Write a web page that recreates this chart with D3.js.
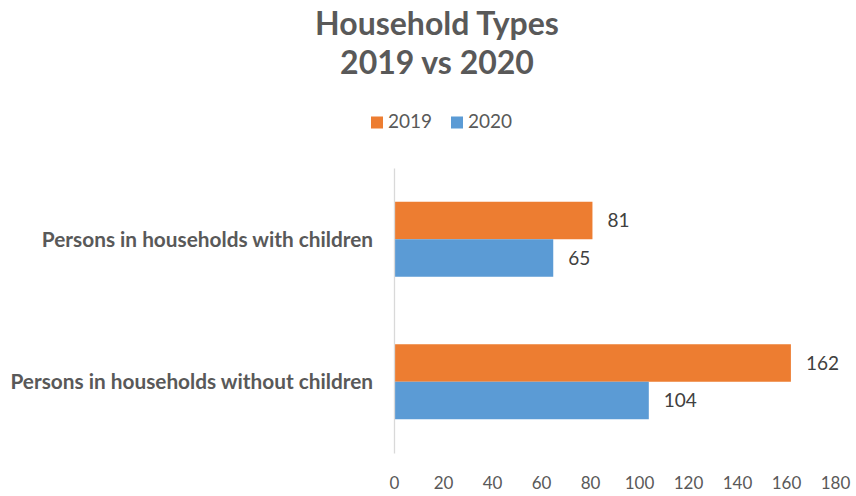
<!DOCTYPE html>
<html>
<head>
<meta charset="utf-8">
<script src="https://cdn.jsdelivr.net/npm/d3@7"></script>
<style>
  html, body { margin: 0; padding: 0; background: #fff; }
  svg { display: block; font-family: Lato, "Open Sans", sans-serif; }
</style>
</head>
<body>
<svg id="chart" width="856" height="496"></svg>
<script>
// Household types, persons counted in 2019 and 2020
const categories = ["Persons in households with children", "Persons in households without children"];
const seriesNames = ["2019", "2020"];
const values2019 = [81, 162];
const values2020 = [65, 104];
const xTicks = [0, 20, 40, 60, 80, 100, 120, 140, 160, 180];
const seriesColors = ["#ED7D31", "#5B9BD5"];

const svg = d3.select("#chart");

// Title
const title = svg.append("text")
  .attr("text-anchor", "middle")
  .attr("fill", "#595959")
  .attr("font-weight", 700)
  .attr("font-size", 32);
title.append("tspan").attr("x", 437).attr("y", 35).text("Household Types");
title.append("tspan").attr("x", 437).attr("y", 74).text("2019 vs 2020");

// Legend
const legendX = [371, 451];
const legend = svg.append("g");
seriesNames.forEach((name, i) => {
  legend.append("rect")
    .attr("x", legendX[i]).attr("y", 116.5)
    .attr("width", 12).attr("height", 12)
    .attr("fill", seriesColors[i]);
  legend.append("text")
    .attr("x", legendX[i] + 17).attr("y", 128)
    .attr("fill", "#595959")
    .attr("font-size", 19)
    .text(name);
});

// Scales
const x = d3.scaleLinear().domain([0, 180]).range([394, 835]);
const y = d3.scaleBand().domain(categories).range([168, 453]).padding(0);
const ySeries = d3.scaleBand().domain(seriesNames).range([0, y.bandwidth()])
  .paddingInner(0).paddingOuter(0.9);

// Bars
const rows = categories.map((c, i) => ({
  category: c,
  values: [
    { series: "2019", value: values2019[i] },
    { series: "2020", value: values2020[i] }
  ]
}));

const groups = svg.append("g").selectAll("g")
  .data(rows).join("g")
  .attr("transform", d => `translate(0,${y(d.category)})`);

groups.selectAll("rect")
  .data(d => d.values).join("rect")
  .attr("x", x(0))
  .attr("y", d => ySeries(d.series))
  .attr("width", d => x(d.value) - x(0))
  .attr("height", ySeries.bandwidth())
  .attr("fill", (d, i) => seriesColors[i]);

groups.selectAll("text.value")
  .data(d => d.values).join("text")
  .attr("class", "value")
  .attr("x", d => x(d.value) + 15)
  .attr("y", d => ySeries(d.series) + ySeries.bandwidth() / 2)
  .attr("dy", "0.36em")
  .attr("fill", "#404040")
  .attr("font-size", 19)
  .text(d => d.value);

// Category axis
const yAxis = svg.append("g")
  .attr("transform", `translate(${x(0)},0)`)
  .call(d3.axisLeft(y).tickSize(0).tickSizeOuter(0).tickPadding(21));
yAxis.select(".domain").attr("stroke", "#d9d9d9").attr("stroke-width", 1.3);
yAxis.selectAll("text")
  .attr("fill", "#595959")
  .attr("font-family", "Lato, 'Open Sans', sans-serif")
  .attr("font-weight", 700)
  .attr("font-size", 20.8)
  .attr("dy", "0.36em");

// Value axis (labels only)
const xAxis = svg.append("g")
  .attr("transform", "translate(0,453)")
  .call(d3.axisBottom(x).tickValues(xTicks).tickSize(0).tickPadding(0));
xAxis.select(".domain").remove();
xAxis.selectAll("text")
  .attr("fill", "#595959")
  .attr("font-family", "Lato, 'Open Sans', sans-serif")
  .attr("font-size", 17)
  .attr("y", 36)
  .attr("dy", 0);
</script>
</body>
</html>
